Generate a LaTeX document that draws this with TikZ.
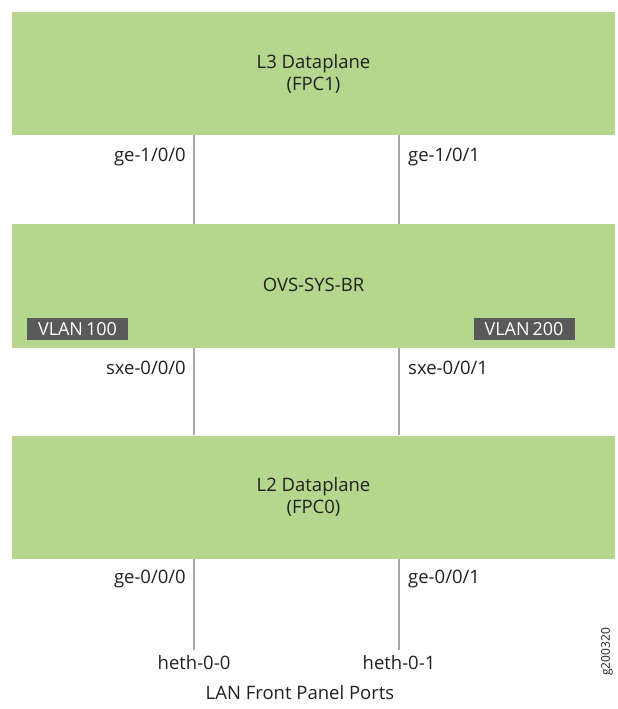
\documentclass[tikz,border=0pt]{standalone}
\usepackage{fontspec}
\setmainfont{Open Sans}
\usetikzlibrary{calc, positioning}

\definecolor{planegreen}{HTML}{B5D78D}
\definecolor{tagdark}{HTML}{58595B}
\definecolor{wiregray}{HTML}{A7A9AC}
\definecolor{labeltext}{HTML}{231F20}

\tikzset{
  planebox/.style={fill=planegreen, draw=none, minimum width=603pt, minimum height=123pt,
    align=center, text=labeltext, font=\fontsize{18.5}{22}\selectfont, inner sep=0pt},
  vlantag/.style={fill=tagdark, text=white, minimum width=101pt, minimum height=22pt,
    inner sep=0pt, font=\fontsize{18}{20}\selectfont},
  portline/.style={draw=wiregray, line width=1.6pt},
  portlabel/.style={text=labeltext, font=\fontsize{18.5}{20}\selectfont, inner sep=0pt}
}

\begin{document}
\begin{tikzpicture}[x=1pt, y=-1pt]
\useasboundingbox (0,0) rectangle (618,709);
\def\leftport{194}
\def\rightport{399}

% The three planes
\node[planebox] (l3) at (313.5,73.5) {L3 Dataplane\\(FPC1)};
\node[planebox] (ovs) at (313.5,286) {};
\node[planebox, anchor=center] (ovsname) at (313.5,285) {OVS-SYS-BR};
\node[planebox] (l2) at (313.5,497) {L2 Dataplane\\(FPC0)};

% VLAN tags
\node[vlantag] (vlanA) at (77.5,329) {VLAN\,100};
\node[vlantag] (vlanB) at (524,329) {VLAN\,200};

% Front panel port ends
\coordinate (hethA) at (\leftport,650);
\coordinate (hethB) at (\rightport,650);

% Links between the planes
\draw[portline] (l3.south -| hethA) -- (ovs.north -| hethA);
\draw[portline] (l3.south -| hethB) -- (ovs.north -| hethB);
\draw[portline] (ovs.south -| hethA) -- (l2.north -| hethA);
\draw[portline] (ovs.south -| hethB) -- (l2.north -| hethB);
\draw[portline] (l2.south -| hethA) -- (hethA);
\draw[portline] (l2.south -| hethB) -- (hethB);

% Interface names
\node[portlabel, anchor=east] (ge100) at (186,157) {ge-1/0/0};
\node[portlabel, anchor=west] (ge101) at (408,157) {ge-1/0/1};
\node[portlabel, anchor=east] (sxe000) at (186,368) {sxe-0/0/0};
\node[portlabel, anchor=west] (sxe001) at (408,368) {sxe-0/0/1};
\node[portlabel, anchor=east] (ge000) at (186,579) {ge-0/0/0};
\node[portlabel, anchor=west] (ge001) at (408,579) {ge-0/0/1};
\node[portlabel] (hethAname) at (\leftport,663) {heth-0-0};
\node[portlabel] (hethBname) at (\rightport,663) {heth-0-1};
\node[portlabel] (lanports) at (300,693) {LAN Front Panel Ports};

% Figure number
\node[portlabel, rotate=90, font=\fontsize{12}{14}\selectfont] (fignum) at (607,652) {g200320};
\end{tikzpicture}
\end{document}
